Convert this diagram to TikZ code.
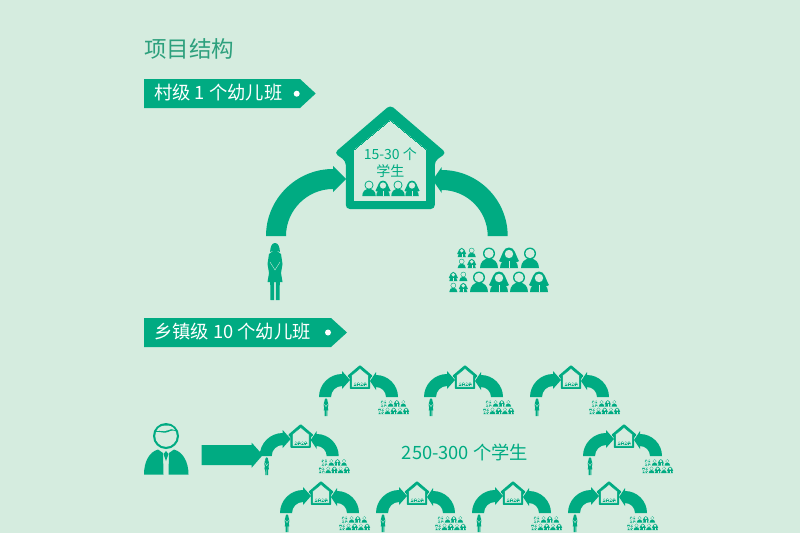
\documentclass[tikz,border=0pt]{standalone}
\usepackage{fontspec}
\setmainfont{Noto Sans CJK SC}
\definecolor{bgc}{RGB}{213,236,223}
\definecolor{grn}{RGB}{0,171,130}
\definecolor{ttl}{RGB}{45,160,125}
\newcommand{\arcarrow}[4]{% R r flare tip
  \fill[grn] (-#1,0) .. controls (-#1,-.55*#1) and (-.55*#1,-#1) .. (0,-#1)
    -- (0,-#1-#3) -- (#4,-.5*#1-.5*#2) -- (0,-#2+#3) -- (0,-#2)
    .. controls (-.55*#2,-#2) and (-#2,-.55*#2) .. (-#2,0) -- cycle;}
\tikzset{
  x=1pt,y=-1pt,
  every pic/.style={transform shape},
  banner/.style={fill=grn},
  bannertext/.style={anchor=west,text=white,font=\fontsize{18.3}{20}\selectfont,inner sep=0pt},
  dotmark/.style={fill=white},
  pics/boy/.style={code={
    \fill[grn] (-9,0) .. controls (-9,-6) and (-5,-9.5) .. (0,-9.5) .. controls (5,-9.5) and (9,-6) .. (9,0) -- cycle;
    \fill[grn] (0,-14.5) circle[radius=6];
    \fill[bgc] (0,-14.5) circle[radius=4.7];
  }},
  pics/girl/.style={code={
    \fill[grn] (0,-20.5) .. controls (-6,-20.5) and (-6,-14) .. (-10,-7) -- (-8,-6) -- (8,-6) -- (10,-7) .. controls (6,-14) and (6,-20.5) .. (0,-20.5) -- cycle;
    \fill[grn] (-9,0) .. controls (-9,-6) and (-5,-9) .. (0,-9) .. controls (5,-9) and (9,-6) .. (9,0) -- cycle;
    \fill[bgc] (0,-14) circle[radius=4.2];
    \fill[bgc] (-.3,-7) rectangle (.3,0);
  }},
  pics/woman/.style={code={
    \fill[grn] (0,-57) .. controls (-3.5,-57) and (-4.5,-53) .. (-5,-48) -- (-2.5,-49) -- (2.5,-49) -- (5,-48) .. controls (4.5,-53) and (3.5,-57) .. (0,-57) -- cycle;
    \fill[grn] (-2,-49) -- (-6,-46) -- (-7.5,-36) -- (-6,-27) -- (-7.5,-18) -- (-4.8,-18) -- (-4.5,0) -- (-.8,0) -- (-.8,-18) -- (.8,-18) -- (.8,0) -- (4.5,0) -- (4.8,-18) -- (7.5,-18) -- (6,-27) -- (7.5,-36) -- (6,-46) -- (2,-49) -- cycle;
    \draw[bgc,line width=.35pt] (-5,-38) -- (0,-30) -- (5,-38);
  }},
  pics/crowd/.style={code={
    \foreach \px/\py in {71.4/-35,81.4/-24,63/-11,73/0} \pic[scale=.45] at (\px,\py) {girl};
    \foreach \px/\py in {81.4/-35,71.4/-24,73/-11,63/0} \pic[scale=.45] at (\px,\py) {boy};
    \foreach \px/\py in {98.7/-24,139.7/-24,88.7/0,128.7/0} \pic at (\px,\py) {boy};
    \foreach \px/\py in {118.7/-24,108.7/0,148.7/0} \pic at (\px,\py) {girl};
  }},
  pics/house/.style 2 args={code={
    \fill[grn,rounded corners=#1] (0,0) -- (56,48) -- (44.5,56) -- (44.5,104) -- (-44.5,104) -- (-44.5,56) -- (-56,48) -- cycle;
    \filldraw[fill=bgc,draw=grn,line width=#2] (0,15) -- (36.5,45) -- (36.5,96) -- (-36.5,96) -- (-36.5,45) -- cycle;
    \pic[scale=.75] at (-21.3,91) {boy};
    \pic[scale=.75] at (-7.3,91) {girl};
    \pic[scale=.75] at (7.7,91) {boy};
    \pic[scale=.75] at (21.7,91) {girl};
  }},
  pics/unit/.style={code={
    \begin{scope}[shift={(-18,32)}]\arcarrow{23}{11}{3}{8}\end{scope}
    \begin{scope}[shift={(16,32)},xscale=-1]\arcarrow{22}{10}{3}{6}\end{scope}
    \pic[scale=.23] at (0,0) {house={.9}{.5pt}};
    \pic[scale=.31] at (-34,51) {woman};
    \pic[scale=.31] at (0,49) {crowd};
  }}
}
\begin{document}
\begin{tikzpicture}
\useasboundingbox[fill=bgc] (0,0) rectangle (800,533);
% title
\node[anchor=west,text=ttl,inner sep=0pt,font=\fontsize{22.5}{24}\selectfont] (title) at (144,49) {项目结构};
% banners
\fill[banner] (144,79) -- (300,79) -- (315.7,93.5) -- (300,108) -- (144,108) -- cycle;
\node[bannertext] (b1) at (154,93) {村级 1 个幼儿班};
\fill[dotmark] (296.7,93.7) circle[radius=3];
\fill[banner] (144,318) -- (331,318) -- (347,332.5) -- (331,347) -- (144,347) -- cycle;
\node[bannertext] (b2) at (154,332) {乡镇级 10 个幼儿班};
\fill[dotmark] (328,332.5) circle[radius=3];
% big unit
\begin{scope}[shift={(333,236)}]\arcarrow{67}{47}{3}{13}\end{scope}
\begin{scope}[shift={(441.7,236)},xscale=-1]\arcarrow{66}{46}{3}{9}\end{scope}
\pic (bighouse) at (390.3,105) {house={4}{0pt}};
\node[text=grn,inner sep=0pt,font=\fontsize{14}{16}\selectfont] (t1) at (390.3,154) {15-30 个};
\node[text=grn,inner sep=0pt,font=\fontsize{14}{16}\selectfont] (t2) at (390.3,171) {学生};
\pic (bigwoman) at (275,300) {woman};
\pic (bigcrowd) at (390.3,292) {crowd};
% small units
\foreach \ux/\uy in {360/365,465/365,571/365,624/424,300.7/424,321/481,417/481,513/481,609/481}
  \pic at (\ux,\uy) {unit};
\node[text=grn,inner sep=0pt,font=\fontsize{18.3}{20}\selectfont] (t3) at (465,452) {250-300 个学生};
% manager
\fill[grn] (201.7,445) -- (251.7,445) -- (251.7,442.7) -- (262.7,455) -- (251.7,467.7) -- (251.7,465) -- (201.7,465) -- cycle;
\fill[grn] (144,474.5) .. controls (144,462) and (149,452) .. (158,449.5) -- (163,453) -- (163.5,474.5) -- cycle;
\fill[grn] (188.5,474.5) .. controls (188.5,462) and (183,452) .. (174,449.5) -- (169,453) -- (168.5,474.5) -- cycle;
\fill[grn] (166,451) -- (168.5,454) -- (166,461) -- (163.5,454) -- cycle;
\fill[grn] (166,436) circle[radius=13];
\fill[bgc] (166,436) circle[radius=10.8];
\fill[grn] (155,432) .. controls (160,431) and (164,434) .. (168,432) .. controls (171,430) and (175,430) .. (177,432) .. controls (175,425) and (170,424) .. (166,424) .. controls (160,424) and (156,427) .. (155,432) -- cycle;
\fill[bgc] (156.5,431) .. controls (160,430) and (164,432) .. (167,430.5) .. controls (170,429) and (173,428.5) .. (175,430) .. controls (173,426) and (169,425.5) .. (166,425.5) .. controls (161,425.5) and (158,427.5) .. (156.5,431) -- cycle;
\end{tikzpicture}
\end{document}
